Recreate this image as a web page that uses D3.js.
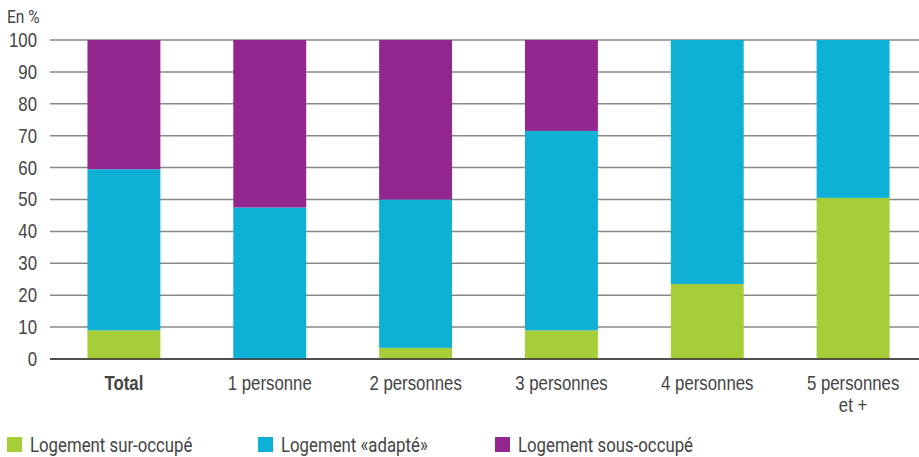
<!DOCTYPE html>
<html>
<head>
<meta charset="utf-8">
<script src="https://cdn.jsdelivr.net/npm/d3@7"></script>
<style>
  body { margin: 0; background: #fff; }
  svg { font-family: "Liberation Sans Narrow", Roboto, sans-serif; }
  .tick text { fill: #444; font-size: 20px; }
  .legend text { fill: #444; font-size: 20px; }
</style>
</head>
<body>
<svg id="chart" width="919" height="457"></svg>
<script>
// categories and series (en %)
var categories = ["Total", "1 personne", "2 personnes", "3 personnes", "4 personnes", "5 personnes et +"];
var surOccupe = [9, 0, 3.5, 9, 23.5, 50.5];
var adapte = [50.5, 47.5, 46.5, 62.5, 76.5, 49.5];
var sousOccupe = [40.5, 52.5, 50, 28.5, 0, 0];
var yTicks = [0, 10, 20, 30, 40, 50, 60, 70, 80, 90, 100];

var seriesNames = ["Logement sur-occupé", "Logement «adapté»", "Logement sous-occupé"];
var colors = ["#a6ce39", "#0fb0d5", "#93278f"];

var squeeze = 0.84; // condensed look

var svg = d3.select("#chart");

var x = d3.scaleBand()
    .domain(categories)
    .range([51, 926])
    .paddingInner(0.5)
    .paddingOuter(0.25);

var y = d3.scaleLinear()
    .domain([0, 100])
    .range([359, 40]);

// table for stacking
var table = categories.map(function(c, i) {
    return { cat: c, s0: surOccupe[i], s1: adapte[i], s2: sousOccupe[i] };
});
var layers = d3.stack().keys(["s0", "s1", "s2"])(table);

// y labels
var yAxis = svg.append("g")
    .attr("transform", "translate(50,0)")
    .call(d3.axisLeft(y).tickValues(yTicks).tickSize(0));
yAxis.select(".domain").remove();
yAxis.selectAll(".tick text")
    .attr("x", -13 / squeeze)
    .attr("transform", "scale(" + squeeze + ",1)");

// gridlines
svg.append("g")
    .selectAll("line")
    .data(yTicks)
    .enter().append("line")
    .attr("x1", 50)
    .attr("x2", 919)
    .attr("y1", function(d) { return y(d); })
    .attr("y2", function(d) { return y(d); })
    .attr("stroke", "#888")
    .attr("stroke-width", 1.5);

// bars
svg.append("g")
    .selectAll("g")
    .data(layers)
    .enter().append("g")
    .attr("fill", function(d, i) { return colors[i]; })
    .selectAll("rect")
    .data(function(d) { return d; })
    .enter().append("rect")
    .attr("x", function(d) { return x(d.data.cat); })
    .attr("width", x.bandwidth())
    .attr("y", function(d) { return y(d[1]); })
    .attr("height", function(d) { return y(d[0]) - y(d[1]); });

// baseline on top
svg.append("line")
    .attr("x1", 50).attr("x2", 919)
    .attr("y1", y(0)).attr("y2", y(0))
    .attr("stroke", "#333").attr("stroke-width", 1.5);

// x labels
var xAxis = svg.append("g")
    .attr("transform", "translate(0," + y(0) + ")")
    .call(d3.axisBottom(x).tickSize(0).tickPadding(17));
xAxis.select(".domain").remove();
xAxis.selectAll(".tick text")
    .attr("transform", "scale(" + squeeze + ",1)")
    .attr("font-weight", function(d) { return d === "Total" ? "bold" : null; })
    .attr("fill", function(d) { return d === "Total" ? "#333" : "#444"; })
    .each(function(d) {
        if (d === "5 personnes et +") {
            var t = d3.select(this);
            t.text(null);
            t.append("tspan").attr("x", 0).attr("dy", "0.71em").text("5 personnes");
            t.append("tspan").attr("x", 0).attr("dy", "1.1em").text("et +");
        }
    });

// unit label
svg.append("text")
    .attr("transform", "translate(7,23) scale(" + squeeze + ",1)")
    .attr("fill", "#444")
    .attr("font-size", 18.5)
    .text("En %");

// legend
var legendX = [7, 258, 495];
var legend = svg.append("g").attr("class", "legend")
    .selectAll("g")
    .data(seriesNames)
    .enter().append("g")
    .attr("transform", function(d, i) { return "translate(" + legendX[i] + ",437)"; });
legend.append("rect")
    .attr("width", 15)
    .attr("height", 15)
    .attr("fill", function(d, i) { return colors[i]; });
legend.append("text")
    .attr("transform", "translate(23,14.5) scale(" + squeeze + ",1)")
    .text(function(d) { return d; });
</script>
</body>
</html>
